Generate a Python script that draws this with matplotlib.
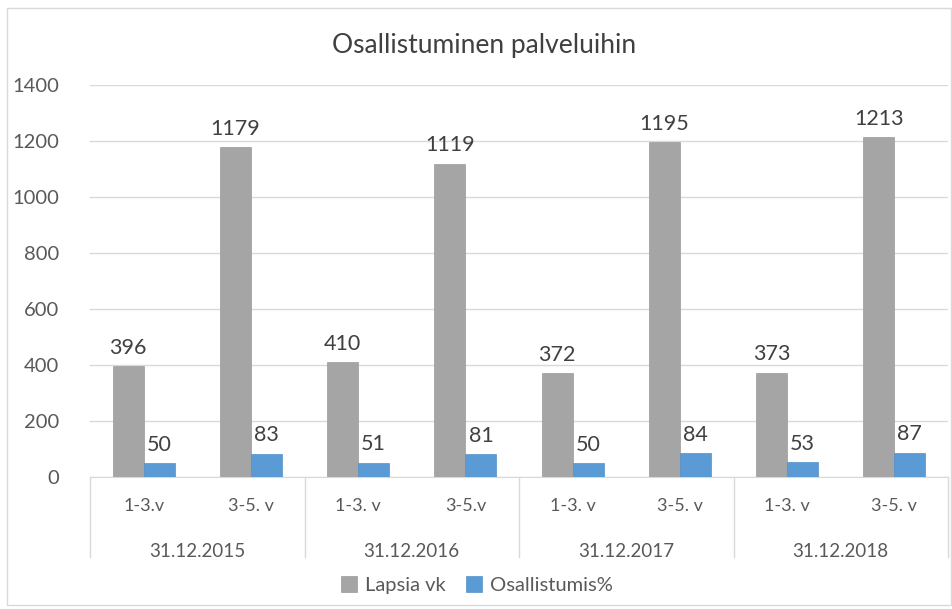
import matplotlib.pyplot as plt
from matplotlib.patches import Rectangle
import numpy as np

# data
dates = ['31.12.2015', '31.12.2016', '31.12.2017', '31.12.2018']
age_labels = ['1-3.v', '3-5. v', '1-3. v', '3-5.v', '1-3. v', '3-5. v', '1-3. v', '3-5. v']
lapsia_vk = [396, 1179, 410, 1119, 372, 1195, 373, 1213]
osallistumis = [50, 83, 51, 81, 50, 84, 53, 87]

plt.rcParams['font.family'] = ['Lato', 'DejaVu Sans']
txt = '#595959'
grey = '#a5a5a5'
blue = '#5b9bd5'

fig = plt.figure(figsize=(9.52, 6.09), dpi=100)
ax = fig.add_axes([90 / 952, 1 - 477 / 609, 858 / 952, 392 / 609])

# outer chart border
fig.patches.append(Rectangle((7 / 952, 4 / 609), 944 / 952, 597 / 609, transform=fig.transFigure,
                             fill=False, edgecolor='#d9d9d9', linewidth=1))

x = np.arange(len(age_labels))
w = 0.29
b1 = ax.bar(x - w / 2, lapsia_vk, w, color=grey, edgecolor='#9a9a9a', linewidth=0.5, label='Lapsia vk', zorder=3)
b2 = ax.bar(x + w / 2, osallistumis, w, color=blue, edgecolor='#5390c8', linewidth=0.5, label='Osallistumis%', zorder=3)

for bars in (b1, b2):
    ax.bar_label(bars, padding=6, fontsize=15.5, color='#404040')

ax.set_xlim(-0.5, len(age_labels) - 0.5)
ax.set_ylim(0, 1400)
ax.set_yticks(range(0, 1401, 200))
ax.tick_params(axis='y', length=0, labelsize=14.5, labelcolor=txt, pad=22)
ax.set_xticks([])
ax.grid(axis='y', color='#d9d9d9', linewidth=1, zorder=0)
for s in ['top', 'right', 'left']:
    ax.spines[s].set_visible(False)
ax.spines['bottom'].set_color('#d9d9d9')

# two-level category axis
tr = ax.get_xaxis_transform()
for i, lab in enumerate(age_labels):
    ax.text(i, -0.075, lab, transform=tr, ha='center', va='center', fontsize=13, color=txt)
for g, d in enumerate(dates):
    ax.text(2 * g + 0.5, -0.19, d, transform=tr, ha='center', va='center', fontsize=13.5, color=txt)
for xs in np.arange(-0.5, len(age_labels), 2):
    ax.plot([xs, xs], [0, -0.205], transform=tr, color='#d9d9d9', linewidth=1, clip_on=False)

fig.text(484 / 952, 1 - 45 / 609, 'Osallistuminen palveluihin', ha='center', va='center', fontsize=19, color='#404040')

fig.legend(loc='center', bbox_to_anchor=(477 / 952, 1 - 585 / 609), ncol=2, frameon=False,
           fontsize=14.5, labelcolor=txt, handlelength=0.8, handleheight=0.8, columnspacing=1.0, handletextpad=0.4)

plt.savefig('out.png', dpi=100)
